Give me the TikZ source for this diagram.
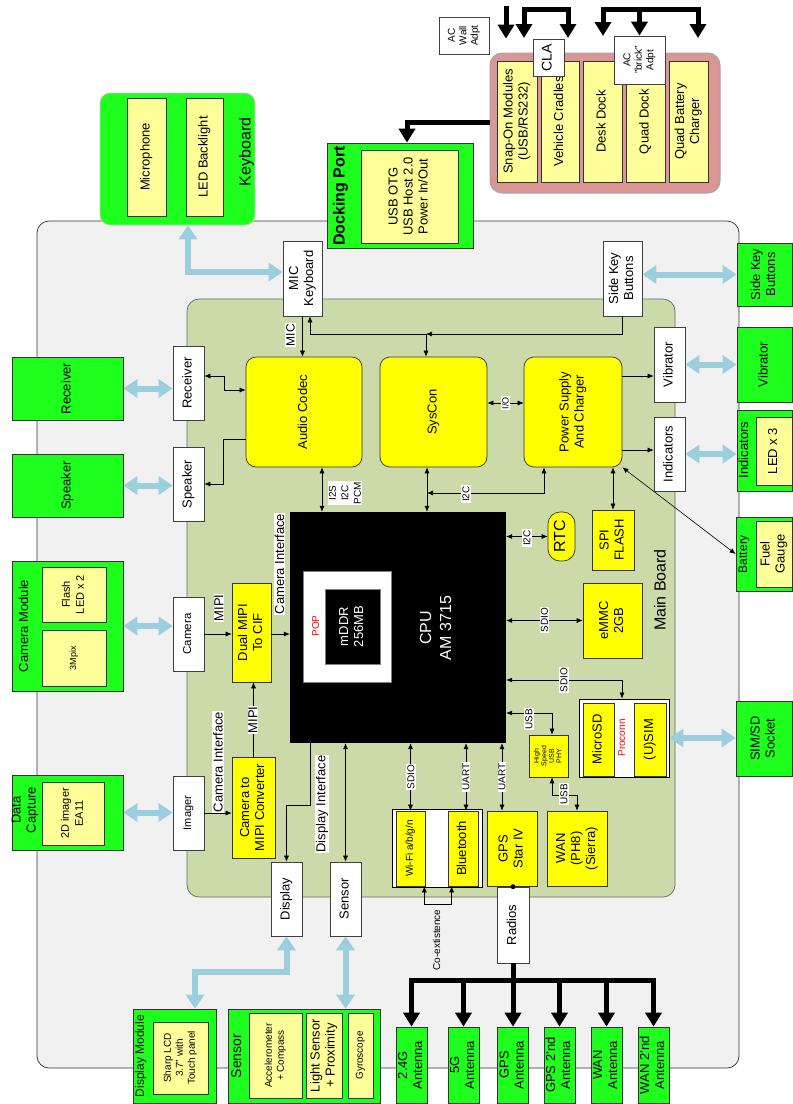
\documentclass[tikz,border=0pt]{standalone}
\usepackage{fontspec}
\setmainfont{Liberation Sans}
\usepackage{xcolor}
\usepackage{tikz}
\usetikzlibrary{arrows.meta, positioning, calc}

\definecolor{outergray}{RGB}{241,241,241}
\definecolor{boardgreen}{RGB}{204,218,170}
\definecolor{accpink}{RGB}{217,150,148}
\definecolor{partgreen}{RGB}{30,255,30}
\definecolor{chipyellow}{RGB}{255,255,0}
\definecolor{paleyellow}{RGB}{255,255,153}
\definecolor{linkblue}{RGB}{155,207,222}

\newcommand\vt[1]{\rotatebox{90}{\begin{tabular}{@{}c@{}}#1\end{tabular}}}

\begin{document}
\begin{tikzpicture}[
  x=1pt, y=-1pt,
  font=\fontsize{13}{15}\selectfont,
  wbox/.style={rectangle, draw=black!75, fill=white, line width=0.7pt, inner sep=0pt},
  ybox/.style={rectangle, draw=black!80, fill=chipyellow, line width=0.7pt, inner sep=0pt},
  chip/.style={ybox, rounded corners=10pt},
  pale/.style={rectangle, draw=black!80, fill=paleyellow, line width=0.7pt, inner sep=0pt},
  part/.style={rectangle, draw=black!80, fill=partgreen, line width=0.7pt, inner sep=0pt},
  sig/.style={line width=0.6pt, -{Latex[length=6pt,width=5pt]}},
  sigs/.style={line width=0.6pt, {Latex[length=6pt,width=5pt]}-{Latex[length=6pt,width=5pt]}},
  tag/.style={fill=white, inner sep=1pt, rotate=90, align=center, font=\fontsize{10}{12.5}\selectfont},
  ext/.style={draw=linkblue, line width=6pt, {Triangle[width=18pt,length=14pt]}-{Triangle[width=18pt,length=14pt]}},
  bus/.style={line width=5pt, -{Triangle[width=16pt,length=14pt]}},
  bus2/.style={line width=5pt, {Triangle[width=16pt,length=14pt]}-{Triangle[width=16pt,length=14pt]}}
]
\useasboundingbox (0,0) rectangle (793,1104);

\draw[fill=outergray, draw=black!80, line width=0.7pt, rounded corners=12pt] (37,221) rectangle (739,1068);
\draw[fill=boardgreen, draw=black!60, line width=0.7pt, rounded corners=12pt] (187,299) rectangle (675,897);
\node[font=\fontsize{16}{18}\selectfont] (mbl) at (662,590) {\vt{Main Board}};

\node[rectangle, fill=accpink, draw=black!35, line width=1pt, rounded corners=12pt, minimum width=230pt, minimum height=140pt] (accs) at (605,123) {};
\node[pale, minimum width=40pt, minimum height=121pt] (snap) at (517,121.5) {\vt{Snap-On Modules\\(USB/RS232)}};
\node[pale, minimum width=38pt, minimum height=121pt] (cradle) at (560,121.5) {\vt{Vehicle Cradles}};
\node[pale, minimum width=39pt, minimum height=121pt] (desk) at (602.5,121.5) {\vt{Desk Dock}};
\node[pale, minimum width=39pt, minimum height=121pt] (quad) at (645.5,121.5) {\vt{Quad Dock}};
\node[pale, minimum width=39pt, minimum height=121pt] (qbat) at (688.5,121.5) {\vt{Quad Battery\\Charger}};
\node[wbox, minimum width=31pt, minimum height=37pt, font=\fontsize{14}{16}\selectfont] (cla) at (548.5,57.5) {\vt{CLA}};
\node[wbox, minimum width=51pt, minimum height=48pt, font=\fontsize{10}{11.5}\selectfont] (brick) at (639.5,60) {\vt{AC\\"brick"\\Adpt}};
\node[wbox, minimum width=50pt, minimum height=37pt, font=\fontsize{10}{11.5}\selectfont] (wall) at (464,35.5) {\vt{AC\\Wall\\Adpt}};

\coordinate (acfeed) at (506,6);
\coordinate (clafeed) at (524,38);
\coordinate (cradfeed) at (568,38);
\coordinate (deskfeed) at (603,36);
\coordinate (qbatfeed) at (698,38);
\draw[bus] (acfeed) -- (acfeed |- cla.north);
\draw[bus2] (clafeed) |- (cradfeed |- 0,9) -- (cradfeed);
\draw[bus2] (deskfeed) |- (qbatfeed |- 0,9) -- (qbatfeed);
\draw[bus] (brick.north |- 0,9) -- (brick.north);

\node[part, minimum width=146pt, minimum height=105pt] (dock) at (400,195.5) {};
\node[pale, minimum width=97pt, minimum height=93pt] (dockio) at (409.5,196.5) {\vt{USB OTG\\USB Host 2.0\\Power In/Out}};
\node[font=\bfseries\fontsize{16}{18}\selectfont] (dockl) at (341,196) {\vt{Docking Port}};
\draw[bus] (accs.west |- 0,122) -| ([xshift=7pt]dock.north);

\node[part, draw=black!20, rounded corners=10pt, minimum width=155pt, minimum height=132pt] (kbd) at (177.5,159) {};
\node[pale, minimum width=39pt, minimum height=118pt] (mic) at (146.5,157) {\vt{Microphone}};
\node[pale, minimum width=37pt, minimum height=118pt] (led) at (204.5,157) {\vt{LED Backlight}};
\node[font=\fontsize{16}{18}\selectfont] (kbdl) at (247,152) {\vt{Keyboard}};

\node[wbox, minimum width=39pt, minimum height=75pt] (mickb) at (302.5,278.5) {\vt{MIC\\Keyboard}};
\draw[ext] ([xshift=10.5pt]kbd.south) |- ([yshift=6.5pt]mickb.west);

\node[wbox, minimum width=39pt, minimum height=75pt] (skey) at (622.5,278.5) {\vt{Side Key\\Buttons}};
\node[part, minimum width=55pt, minimum height=63pt] (skeyx) at (764.5,274.5) {\vt{Side Key\\Buttons}};
\draw[ext] (skey.east |- skeyx.west) -- (skeyx.west);

\node[wbox, minimum width=31pt, minimum height=75pt] (vib) at (669.5,364.5) {\vt{Vibrator}};
\node[part, minimum width=55pt, minimum height=75pt] (vibx) at (764.5,364.5) {\vt{Vibrator}};
\draw[ext] (vib.east) -- (vibx.west);

\node[wbox, minimum width=31pt, minimum height=74pt] (ind) at (669.5,454) {\vt{Indicators}};
\node[part, minimum width=55pt, minimum height=81pt] (indx) at (764.5,450.5) {};
\node[pale, minimum width=36pt, minimum height=68pt] (ledx) at (774,451) {\vt{LED x 3}};
\node (indl) at (745,450) {\vt{Indicators}};
\draw[ext] (ind.east) -- (ind.east -| indx.west);

\node[wbox, minimum width=31pt, minimum height=74pt] (rec) at (188.5,383) {\vt{Receiver}};
\node[wbox, minimum width=31pt, minimum height=74pt] (spk) at (188.5,484) {\vt{Speaker}};
\node[part, minimum width=111pt, minimum height=63pt] (recx) at (67.5,388.5) {\vt{Receiver}};
\node[part, minimum width=111pt, minimum height=63pt] (spkx) at (67.5,485.5) {\vt{Speaker}};
\draw[ext] (recx.east) -- (recx.east -| rec.west);
\draw[ext] (spkx.east) -- (spkx.east -| spk.west);

\node[chip, minimum width=116pt, minimum height=110pt] (codec) at (304,412) {\vt{Audio Codec}};
\node[chip, minimum width=107pt, minimum height=110pt] (syscon) at (433.5,412) {\vt{SysCon}};
\node[chip, minimum width=98pt, minimum height=110pt] (power) at (573,412) {\vt{Power Supply\\And Charger}};

\draw[sig] (mickb.south) -- (mickb.south |- codec.north);
\node[tag, font=\fontsize{12}{14}\selectfont] (mictag) at (290.5,335) {MIC};
\coordinate (kbus) at (426,334);
\draw[sig] (skey.south) |- (kbus);
\draw[sig] (kbus) -| ([xshift=7.5pt]mickb.south);
\draw[sig] (kbus) -- (kbus |- syscon.north);

\draw[sigs] ([yshift=7pt]rec.east) -- ++(20,0) |- (codec.west |- 0,390);
\draw[sig] (codec.west |- 0,439) -- ++(-22,0) |- (spk.east);

\draw[sigs] (syscon.east |- 0,403) -- (power.west |- 0,403);
\node[tag, font=\fontsize{9}{10}\selectfont] (iotag) at (505.5,403) {I/O};
\draw[sig] (power.east |- 0,376) -- (vib.west |- 0,376);
\draw[sig] (power.east |- 0,450) -- (ind.west |- 0,450);

\node[rectangle, fill=black, minimum width=216pt, minimum height=231pt] (cpu) at (398,627.5) {};
\node[rectangle, fill=white, draw=black!50, minimum width=88pt, minimum height=111pt] (pop) at (347,626.5) {};
\node[rectangle, fill=black, draw=black!50, minimum width=55pt, minimum height=75pt, text=white] (mddr) at (352.5,626.5) {\vt{mDDR\\256MB}};
\node[text=red, font=\fontsize{10}{11}\selectfont] (popl) at (317,626) {\vt{POP}};
\node[text=white, font=\fontsize{16}{20}\selectfont] (cpul) at (437,628) {\vt{CPU\\AM 3715}};

\draw[sigs] ([xshift=18pt]codec.south) -- ([xshift=18pt]codec.south |- cpu.north);
\node[tag] (bustag) at (345,493) {I2S\\I2C\\PCM};
\coordinate (sysdn) at ([xshift=-6.5pt]syscon.south);
\draw[sigs] (sysdn) -- (sysdn |- cpu.north);
\draw[sigs] (sysdn |- 0,493) -| ([xshift=-29pt]power.south);
\node[tag] (pmtag) at (466,494) {I2C};

\node[ybox, rounded corners=12pt, minimum width=27pt, minimum height=49pt, font=\fontsize{16}{18}\selectfont] (rtc) at (561.5,536.5) {\vt{RTC}};
\node[ybox, minimum width=42pt, minimum height=60pt] (spi) at (613,540) {\vt{SPI\\FLASH}};
\node[ybox, minimum width=59pt, minimum height=75pt] (emmc) at (612.5,620.5) {\vt{eMMC\\2GB}};
\draw[sigs] (power.south -| spi.north) -- (spi.north);

\node[part, minimum width=56pt, minimum height=74pt] (batx) at (764,554) {};
\node[pale, minimum width=36pt, minimum height=66pt] (fuel) at (774,554) {\vt{Fuel\\Gauge}};
\node[font=\fontsize{12}{14}\selectfont] (batl) at (744,554) {\vt{Battery}};
\draw[sigs] (power.south east) -- (batx.west);

\node[wbox, draw=black, line width=0.9pt, minimum width=90pt, minimum height=78pt] (procn) at (624,738) {};
\node[ybox, minimum width=31pt, minimum height=73pt] (usd) at (598.5,739.5) {\vt{MicroSD}};
\node[ybox, minimum width=32pt, minimum height=73pt] (usim) at (650,739.5) {\vt{(U)SIM}};
\node[text=red, font=\fontsize{10}{11}\selectfont] (procl) at (623,738) {\vt{Proconn}};
\node[part, minimum width=56pt, minimum height=75pt] (simx) at (764,738.5) {\vt{SIM/SD\\Socket}};
\draw[ext] (procn.east) -- (procn.east -| simx.west);

\node[ybox, minimum width=39pt, minimum height=42pt, font=\fontsize{7}{7.5}\selectfont] (phy) at (548.5,756) {\vt{High\\Speed\\USB\\PHY}};

\draw[sigs] (cpu.east |- rtc.west) -- (rtc.west);
\node[tag] (rtctag) at (527,538) {I2C};
\draw[sigs] (cpu.east |- emmc.west) -- (emmc.west);
\node[tag] (emmctag) at (544.5,620) {SDIO};
\draw[sigs] (cpu.east |- 0,680) -| ([xshift=-2pt]procn.north);
\node[tag] (sdtag) at (564,680) {SDIO};
\draw[sigs] (cpu.east |- 0,713) -| ([xshift=3.5pt]phy.north);
\node[tag] (usbtag) at (529,719) {USB};

\node[ybox, minimum width=60pt, minimum height=75pt] (wan) at (577,848.5) {\vt{WAN\\(PH8)\\(Sierra)}};
\node[ybox, minimum width=50pt, minimum height=75pt] (gps) at (512,848.5) {\vt{GPS\\Star IV}};
\node[wbox, draw=black, line width=0.9pt, minimum width=90pt, minimum height=78pt] (wlan) at (437,848) {};
\node[ybox, minimum width=29pt, minimum height=75pt, font=\fontsize{10}{12}\selectfont] (wifi) at (410.5,848.5) {\vt{Wi-Fi a/b/g/n}};
\node[ybox, minimum width=30pt, minimum height=75pt] (bt) at (463,848.5) {\vt{Bluetooth}};
\node[wbox, minimum width=32pt, minimum height=76pt] (radio) at (513,925) {\vt{Radios}};

\draw[sigs] ([xshift=3.5pt]phy.south) -- ++(0,18) -| (wan.north);
\node[tag] (wantag) at (564,794) {USB};
\draw[sigs] (wifi.north |- cpu.south) -- (wifi.north);
\node[tag] (wifitag) at (411,777) {SDIO};
\coordinate (btup) at ([xshift=3pt]bt.north);
\draw[sigs] (btup |- cpu.south) -- (btup);
\node[tag] (bttag) at (466,777) {UART};
\coordinate (gpsup) at ([xshift=-10pt]gps.north);
\draw[sigs] (gpsup |- cpu.south) -- (gpsup);
\node[tag] (gpstag) at (502,777) {UART};
\draw[sigs] ([xshift=-1pt]wifi.south east) -- ++(0,18) -| ([xshift=4pt]bt.south west);
\node[font=\fontsize{10}{11}\selectfont] (coexl) at (438,940) {\vt{Co-extistence}};
\fill (radio.north) circle (2.5pt);

\foreach \ant/\cx/\lines in {ant1/411.5/{2.4G\\Antenna}, ant2/463.5/{5G\\Antenna}, ant3/513/{GPS\\Antenna}, ant4/559.5/{GPS 2'nd\\Antenna}, ant5/606.5/{WAN\\Antenna}, ant6/653.5/{WAN 2'nd\\Antenna}}
  \node[part, minimum width=31pt, minimum height=76pt] (\ant) at (\cx,1065) {\vt{\lines}};
\coordinate (abus) at (513,980);
\draw[line width=5pt] (radio.south) -- (abus);
\draw[line width=5pt, line cap=rect] (ant1.north |- abus) -- (ant6.north |- abus);
\foreach \i in {1,...,6}
  \draw[bus] (ant\i.north |- abus) -- (ant\i.north);

\node[ybox, minimum width=39pt, minimum height=99pt] (dmipi) at (251.5,632.5) {\vt{Dual MIPI\\To CIF}};
\node[ybox, minimum width=43pt, minimum height=101pt] (cmipi) at (253.5,807.5) {\vt{Camera to\\MIPI Converter}};
\node[wbox, minimum width=31pt, minimum height=74pt, font=\fontsize{11.5}{13}\selectfont] (cam) at (188.5,634) {\vt{Camera}};
\node[wbox, minimum width=31pt, minimum height=74pt, font=\fontsize{11}{13}\selectfont] (img) at (188.5,813) {\vt{Imager}};

\node[part, minimum width=111pt, minimum height=130pt] (camx) at (67.5,626) {};
\node[pale, minimum width=64pt, minimum height=55pt, font=\fontsize{11}{14}\selectfont] (flash) at (74,594.5) {\vt{Flash\\LED x 2}};
\node[pale, minimum width=64pt, minimum height=56pt, font=\fontsize{9}{11}\selectfont] (mpix) at (74,658) {\vt{3Mpix}};
\node (caml) at (25,626) {\vt{Camera Module}};
\draw[ext] (camx.east) -- (camx.east -| cam.west);

\node[part, minimum width=111pt, minimum height=75pt] (datax) at (67.5,812.5) {};
\node[pale, minimum width=62pt, minimum height=63pt, font=\fontsize{11}{14}\selectfont] (imgr) at (73,813.5) {\vt{2D imager\\EA11}};
\node (datal) at (25,810) {\vt{Data\\Capture}};
\draw[ext] (datax.east) -- (datax.east -| img.west);

\draw[sig] (cam.east) -- (cam.east -| dmipi.west);
\node[tag, font=\fontsize{13}{15}\selectfont] (mipitag) at (219,608) {MIPI};
\draw[sig] (dmipi.east |- cam.east) -- (cpu.west |- cam.east);
\node[tag, font=\fontsize{13}{15}\selectfont] (citag) at (279.5,564) {Camera Interface};
\draw[sig] (img.east) -- (img.east -| cmipi.west);
\node[tag, font=\fontsize{13}{15}\selectfont] (ci2tag) at (218,762) {Camera Interface};
\draw[sig] (cmipi.north) -- (cmipi.north |- dmipi.south);
\node[tag, font=\fontsize{13}{15}\selectfont] (mipi2tag) at (253,720) {MIPI};

\node[wbox, minimum width=31pt, minimum height=74pt] (disp) at (286.5,899) {\vt{Display}};
\node[wbox, minimum width=31pt, minimum height=74pt] (sens) at (345.5,899) {\vt{Sensor}};
\draw[sig] ([xshift=20pt]cpu.south west) -- ++(0,62) -| (disp.north);
\node[tag, font=\fontsize{13}{15}\selectfont] (ditag) at (322,804) {Display Interface};
\draw[sigs] (sens.north |- cpu.south) -- (sens.north);

\node[part, minimum width=83pt, minimum height=94pt] (dispx) at (174.5,1056) {};
\node[pale, minimum width=55pt, minimum height=72pt, font=\fontsize{10}{12}\selectfont] (lcd) at (180.5,1058) {\vt{Sharp LCD\\3.7" with\\Touch panel}};
\node[font=\fontsize{12}{14}\selectfont] (displ) at (141,1056) {\vt{Display Module}};
\draw[ext] (disp.south) -- ++(0,36) -| ([xshift=20.5pt]dispx.north);

\node[part, minimum width=152pt, minimum height=94pt] (sensx) at (304,1056) {};
\node[pale, minimum width=53pt, minimum height=85pt, font=\fontsize{10}{12}\selectfont] (accel) at (275.5,1055.5) {\vt{Accelerometer\\+ Compass}};
\node[pale, minimum width=36pt, minimum height=85pt] (light) at (324,1055.5) {\vt{Light Sensor\\+ Proximity}};
\node[pale, minimum width=25pt, minimum height=85pt, font=\fontsize{10}{12}\selectfont] (gyro) at (360.5,1055.5) {\vt{Gyroscope}};
\node[font=\fontsize{14}{16}\selectfont] (sensl) at (238,1056) {\vt{Sensor}};
\draw[ext] (sens.south) -- (sens.south |- sensx.north);
\end{tikzpicture}
\end{document}
